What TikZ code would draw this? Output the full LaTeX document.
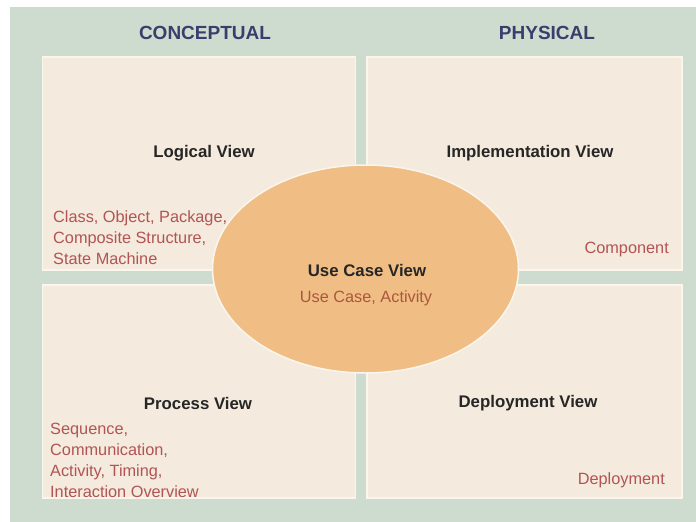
\documentclass[tikz,border=0pt]{standalone}
\usepackage{fontspec}
\setmainfont{Liberation Sans}
\usetikzlibrary{positioning,shapes.geometric}

\definecolor{panelgreen}{RGB}{206,219,207}
\definecolor{boxcream}{RGB}{244,234,221}
\definecolor{rimcream}{RGB}{250,246,238}
\definecolor{caseorange}{RGB}{240,190,132}
\definecolor{headblue}{RGB}{58,62,108}
\definecolor{listred}{RGB}{178,84,84}
\definecolor{casered}{RGB}{172,86,62}

\begin{document}
\begin{tikzpicture}[
  x=1pt, y=-1pt,
  viewbox/.style={draw=rimcream, line width=1.5pt, fill=boxcream, minimum width=313pt, minimum height=213pt, inner sep=0pt},
  head/.style={text=headblue, font=\fontsize{19}{22}\selectfont\bfseries},
  title/.style={text=black!85, font=\fontsize{16.8}{20}\selectfont\bfseries},
  items/.style={text=listred, font=\fontsize{16.3}{21.3}\selectfont, inner sep=0pt}
]
\fill[white] (0,0) rectangle (696,522);
\fill[panelgreen] (10,7) rectangle (696,522);
\useasboundingbox (0,0) rectangle (696,522);

% Headers
\node[head] (concept) at (205,33) {CONCEPTUAL};
\node[head] (physical) at (547,33) {PHYSICAL};

% The four views
\node[viewbox] (logical) at (199,163.5) {};
\node[viewbox, minimum width=315pt] (implement) at (524.5,163.5) {};
\node[viewbox] (process) at (199,391.5) {};
\node[viewbox, minimum width=315pt] (deploy) at (524.5,391.5) {};

\node[title] (logicalname) at (204,153) {Logical View};
\node[title] (implementname) at (530,153) {Implementation View};
\node[title] (processname) at (198,403) {Process View};
\node[title] (deployname) at (528,403) {Deployment View};

% Diagram lists
\node[items, align=left, anchor=north west] (logicalitems) at (53,210)
  {Class, Object, Package,\\Composite Structure,\\State Machine};
\node[items, anchor=east] (implementitems) at (669,249) {Component};
\node[items, align=left, anchor=north west] (processitems) at (50,422.5)
  {Sequence,\\Communication,\\Activity, Timing,\\Interaction Overview};
\node[items, anchor=east] (deployitems) at (665,480) {Deployment};

% Use case view in the middle
\node[ellipse, draw=rimcream, line width=1.5pt, fill=caseorange, minimum width=306pt, minimum height=208pt] (usecase) at (365.5,269) {};
\node[title] (usecasename) at (367,270) {Use Case View};
\node[items, text=casered] (usecaseitems) at (366,298) {Use Case, Activity};
\end{tikzpicture}
\end{document}
